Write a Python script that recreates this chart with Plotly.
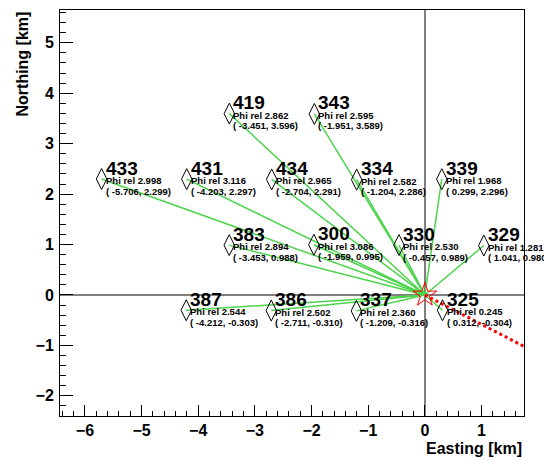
import plotly.graph_objects as go

# Station data
station_ids = ["419", "343", "433", "431", "434", "334", "339", "383", "300", "330", "329", "387", "386", "337", "325"]
easting = [-3.451, -1.951, -5.706, -4.203, -2.704, -1.204, 0.299, -3.453, -1.959, -0.457, 1.041, -4.212, -2.711, -1.209, 0.312]
northing = [3.596, 3.589, 2.299, 2.297, 2.291, 2.286, 2.296, 0.988, 0.995, 0.989, 0.980, -0.303, -0.310, -0.316, -0.304]
phi_rel = [2.862, 2.595, 2.998, 3.116, 2.965, 2.582, 1.968, 2.894, 3.086, 2.530, 1.281, 2.544, 2.502, 2.360, 0.245]

# Shower core and track direction
core_x = [0.0]
core_y = [0.0]
track_x = [0.0, 1.75]
track_y = [0.0, -1.02]

x_range = [-6.44, 1.75]
y_range = [-2.40, 5.65]

FONT = "Liberation Sans, Arial, Helvetica, sans-serif"

fig = go.Figure()

# green lines from core to each station
lx, ly = [], []
for x, y in zip(easting, northing):
    lx += [core_x[0], x, None]
    ly += [core_y[0], y, None]
fig.add_trace(go.Scatter(x=lx, y=ly, mode="lines",
                         line=dict(color="#4cd44c", width=1.5),
                         hoverinfo="skip", showlegend=False))

# track direction (red dotted)
fig.add_trace(go.Scatter(x=track_x, y=track_y, mode="lines",
                         line=dict(color="#ff0000", width=3, dash="dot"),
                         hoverinfo="skip", showlegend=False))

# station markers
fig.add_trace(go.Scatter(x=easting, y=northing, mode="markers",
                         marker=dict(symbol="diamond-tall-open", size=15,
                                     color="black", line=dict(width=1, color="black")),
                         showlegend=False))

# core marker
fig.add_trace(go.Scatter(x=core_x, y=core_y, mode="markers",
                         marker=dict(symbol="star-open", size=18,
                                     color="#ff0000", line=dict(width=1, color="#ff0000")),
                         showlegend=False))

annotations = []
for sid, x, y, p in zip(station_ids, easting, northing, phi_rel):
    annotations.append(dict(x=x, y=y, xref="x", yref="y", text=f"<b>{sid}</b>",
                            showarrow=False, xanchor="left", yanchor="middle",
                            xshift=3, yshift=11, borderpad=0,
                            font=dict(family=FONT, size=19, color="black")))
    annotations.append(dict(x=x, y=y, xref="x", yref="y", text=f"<b>Phi rel {p:.3f}</b>",
                            showarrow=False, xanchor="left", yanchor="middle",
                            xshift=3, yshift=-1.5, borderpad=0,
                            font=dict(family=FONT, size=9.5, color="black")))
    annotations.append(dict(x=x, y=y, xref="x", yref="y", text=f"<b>( {x:.3f}, {y:.3f})</b>",
                            showarrow=False, xanchor="left", yanchor="middle",
                            xshift=3, yshift=-12, borderpad=0,
                            font=dict(family=FONT, size=9.5, color="black")))

# axis titles
annotations.append(dict(x=1, y=0, xref="paper", yref="paper", text="<b>Easting [km]</b>",
                        showarrow=False, xanchor="right", yanchor="top", yshift=-22,
                        font=dict(family=FONT, size=16, color="black")))
annotations.append(dict(x=0, y=1, xref="paper", yref="paper", text="<b>Northing [km]</b>",
                        showarrow=False, xanchor="center", yanchor="top", xshift=-38,
                        textangle=-90,
                        font=dict(family=FONT, size=16, color="black")))

axis_common = dict(showline=True, linecolor="black", linewidth=1, mirror=True,
                   ticks="inside", tickcolor="black", tickwidth=1,
                   showgrid=False, zeroline=True, zerolinecolor="#808080", zerolinewidth=2,
                   tickfont=dict(family=FONT, size=16, color="black", weight="bold"),
                   dtick=1, tick0=0)

fig.update_layout(
    width=544, height=453,
    margin=dict(l=52, r=28, t=2, b=45),
    paper_bgcolor="white", plot_bgcolor="white",
    xaxis=dict(range=x_range, ticklen=11,
               minor=dict(dtick=0.2, ticklen=5, ticks="inside", tickcolor="black"),
               **axis_common),
    yaxis=dict(range=y_range, ticklen=13, ticklabelstandoff=2,
               minor=dict(dtick=0.2, ticklen=6, ticks="inside", tickcolor="black"),
               **axis_common),
    annotations=annotations,
    showlegend=False,
)

fig.write_html("out.html")
